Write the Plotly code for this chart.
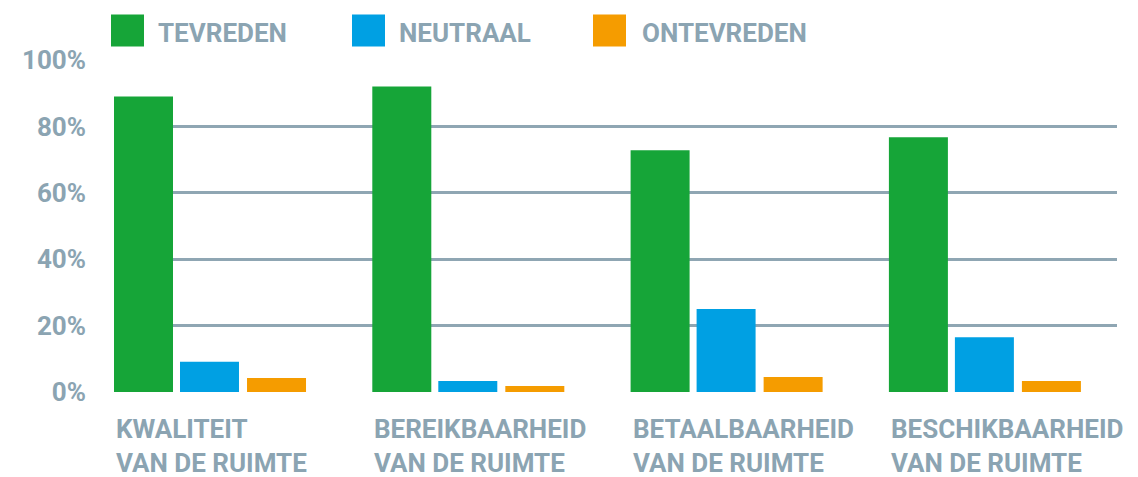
import plotly.graph_objects as go

categories = ["KWALITEIT<br>VAN DE RUIMTE", "BEREIKBAARHEID<br>VAN DE RUIMTE",
              "BETAALBAARHEID<br>VAN DE RUIMTE", "BESCHIKBAARHEID<br>VAN DE RUIMTE"]
series_names = ["TEVREDEN", "NEUTRAAL", "ONTEVREDEN"]
tevreden = [89.0, 92.0, 72.8, 76.7]
neutraal = [9.1, 3.3, 25.0, 16.5]
ontevreden = [4.2, 1.8, 4.5, 3.3]
y_ticks = [0, 20, 40, 60, 80, 100]
y_tick_labels = ["0%", "20%", "40%", "60%", "80%", "100%"]

colors = ["#16a538", "#00a0e3", "#f59c00"]
text_color = "#8ba4b2"
grid_color = "#8fa6b3"
FONT = "Roboto"
FS = 26

# the page places the figure 8px from the window's top-left corner
OFF = 8
W, H = 1138 - OFF, 477 - OFF
L, R, T, B = 114 - OFF, 21, 59.5 - OFF, 85
pw, ph = W - L - R, H - T - B

def px_x(x):  # window pixel -> paper
    return (x - OFF - L) / pw

def px_y(y):
    return (H - B - (y - OFF)) / ph

xs = list(range(len(categories)))
bar_w = 0.2284
offsets = [-0.5, -0.2445, 0.015]

fig = go.Figure()
for name, vals, col, off in zip(series_names, [tevreden, neutraal, ontevreden], colors, offsets):
    fig.add_trace(go.Bar(x=xs, y=vals, name=name, marker=dict(color=col, line=dict(width=0)),
                         width=bar_w, offset=off, showlegend=False))

annotations = []
for i, c in enumerate(categories):
    annotations.append(dict(x=i - 0.5, y=0, xref="x", yref="paper", xanchor="left", yanchor="top",
                            text=c, showarrow=False, align="left", yshift=-20,
                            font=dict(family=FONT, size=FS, color=text_color, weight="bold")))

# custom legend
legend_sq_x = [111, 352, 593]
legend_txt_x = [156, 397, 640]
shapes = []
for sx, tx, name, col in zip(legend_sq_x, legend_txt_x, series_names, colors):
    shapes.append(dict(type="rect", xref="paper", yref="paper", x0=px_x(sx), x1=px_x(sx + 33),
                       y0=px_y(46), y1=px_y(14), fillcolor=col, line=dict(width=0)))
    annotations.append(dict(x=px_x(tx), y=px_y(32), xref="paper", yref="paper", xanchor="left",
                            yanchor="middle", text=name, showarrow=False,
                            font=dict(family=FONT, size=FS, color=text_color, weight="bold")))

fig.update_layout(
    width=W, height=H, margin=dict(l=L, r=R, t=T, b=B, pad=0),
    paper_bgcolor="white", plot_bgcolor="white",
    barmode="overlay",
    font=dict(family=FONT, color=text_color),
    xaxis=dict(range=[-0.5, -0.5 + pw / 258.3], showticklabels=False, showgrid=False,
               zeroline=False, showline=False, ticks=""),
    yaxis=dict(range=[0, 100], tickvals=y_ticks, ticktext=y_tick_labels, showgrid=True,
               gridcolor=grid_color, gridwidth=2.5, zeroline=False, showline=False, ticks="",
               ticklabelstandoff=27,
               tickfont=dict(family=FONT, size=FS, color=text_color, weight="bold")),
    shapes=shapes, annotations=annotations,
)

fig.write_html("out.html")
